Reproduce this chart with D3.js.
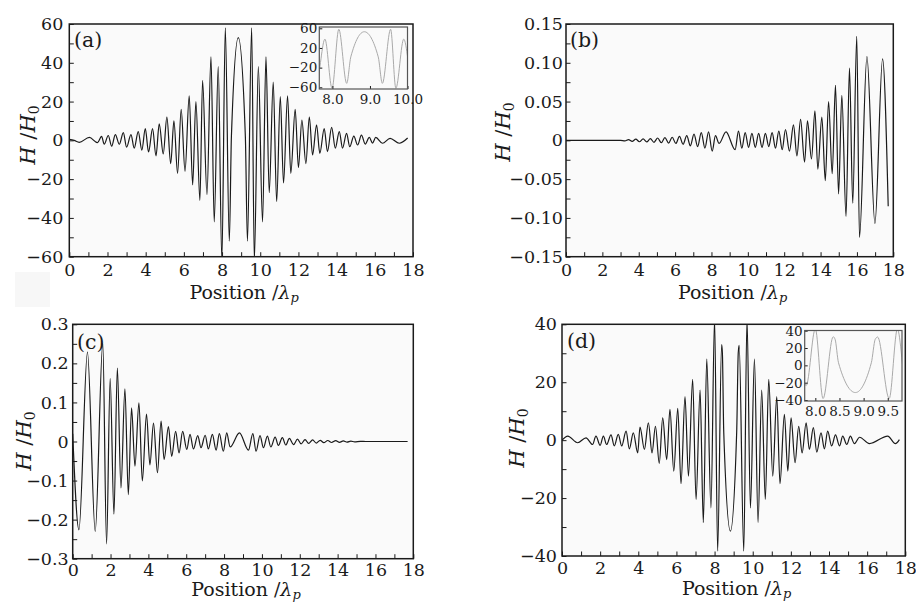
<!DOCTYPE html>
<html>
<head>
<meta charset="utf-8">
<script src="https://cdn.jsdelivr.net/npm/d3@7"></script>
<style>
body { margin: 0; background: #fff; }
svg { display: block; font-family: "DejaVu Serif", "Liberation Serif", serif; }
</style>
</head>
<body>
<svg id="chart" width="916" height="602"></svg>
<script>
// field H/H0 along the position, extrema
var aPos = [0, 0.25, 0.52, 1.05, 1.48, 1.69, 1.83, 2.04, 2.22, 2.41,
            2.62, 2.83, 3.0, 3.23, 3.40, 3.61, 3.80, 3.98, 4.15, 4.36,
            4.54, 4.71, 4.92, 5.11, 5.31, 5.48, 5.67, 5.86, 6.06, 6.28,
            6.46, 6.63, 6.84, 6.98, 7.21, 7.42, 7.59, 7.80, 7.99, 8.17,
            8.38, 8.49, 8.85, 9.22, 9.33, 9.55, 9.69, 9.90, 10.12, 10.30,
            10.47, 10.68, 10.86, 11.05, 11.22, 11.43, 11.60, 11.83, 12.00, 12.18,
            12.39, 12.57, 12.74, 12.95, 13.12, 13.35, 13.52, 13.74, 13.93, 14.14,
            14.31, 14.52, 14.69, 14.90, 15.10, 15.30, 15.50, 15.71, 15.88, 16.05,
            16.40, 16.80, 17.28, 17.72];
var aVal = [0.5, 0, -1, 1.5, -1.2, 2, -2, 2.5, -3, 3,
            -2, 4, -3.5, 3, -4, 4.5, -5, 6, -6, 6,
            -8, 8.5, -7, 12, -12, 10, -17, 16, -16, 23,
            -23, 20, -31, 31, -28, 43, -42, 38, -62, 58,
            -52, 2, 53, 2, -52, 58, -62, 38, -42, 43,
            -27, 30, -31.6, 22.5, -22, 23, -17, 16, -14, 10.5,
            -12, 12, -7.5, 8, -6.7, 6, -5.8, 6.7, -4, 4.5,
            -4, 3.6, -3.3, 2.2, -2.4, 2.7, -1.9, 1.5, -1.4, 1.5,
            -1.5, 1, -1.5, 1.2];

var bPos = [0, 3.0, 3.24, 3.44, 3.64, 3.84, 4.04, 4.24, 4.44, 4.64,
            4.84, 5.04, 5.24, 5.44, 5.64, 5.84, 6.04, 6.24, 6.44, 6.64,
            6.84, 7.04, 7.24, 7.44, 7.64, 7.84, 8.04, 8.22, 8.42, 8.8,
            9.3, 9.485, 9.67, 9.855, 10.04, 10.225, 10.41, 10.595, 10.78, 10.965,
            11.15, 11.335, 11.52, 11.705, 11.89, 12.07, 12.29, 12.51, 12.7, 12.9,
            13.12, 13.28, 13.5, 13.69, 13.85, 14.07, 14.26, 14.44, 14.64, 14.82,
            14.99, 15.17, 15.4, 15.59, 15.77, 15.99, 16.14, 16.55, 16.99, 17.41,
            17.72];
var bVal = [0, 0, -0.0008, 0.001, -0.0012, 0.0015, -0.0018, 0.002, -0.002, 0.0022,
            -0.0025, 0.003, -0.003, 0.0035, -0.0035, 0.004, -0.004, 0.005, -0.005, 0.006,
            -0.007, 0.008, -0.008, 0.010, -0.010, 0.011, -0.014, 0.006, -0.004, 0.011,
            -0.012, 0.012, -0.010, 0.010, -0.009, 0.009, -0.009, 0.009, -0.009, 0.009,
            -0.008, 0.010, -0.010, 0.012, -0.012, 0.014, -0.014, 0.020, -0.020, 0.027,
            -0.028, 0.025, -0.024, 0.038, -0.037, 0.030, -0.052, 0.050, -0.043, 0.071,
            -0.069, 0.058, -0.098, 0.093, -0.081, 0.134, -0.125, 0.108, -0.107, 0.105,
            -0.085];

var cPos = [0, 0.33, 0.78, 1.19, 1.59, 1.79, 1.98, 2.18, 2.36, 2.55,
            2.76, 2.94, 3.11, 3.29, 3.50, 3.68, 3.90, 4.08, 4.27, 4.48,
            4.67, 4.83, 5.06, 5.23, 5.44, 5.62, 5.81, 6.03, 6.20, 6.38,
            6.61, 6.78, 7.00, 7.17, 7.38, 7.58, 7.75, 7.96, 8.14, 8.32,
            8.81, 9.29, 9.52, 9.69, 9.90, 10.08, 10.29, 10.47, 10.70, 10.87,
            11.08, 11.26, 11.45, 11.67, 11.88, 12.07, 12.28, 12.47, 12.68, 12.87,
            13.08, 13.27, 13.48, 13.68, 13.90, 14.10, 14.30, 14.50, 14.70, 14.90,
            15.20, 15.50, 17.70];
var cVal = [0.02, -0.226, 0.229, -0.23, 0.251, -0.262, 0.161, -0.186, 0.188, -0.119,
            0.135, -0.136, 0.086, -0.063, 0.099, -0.101, 0.070, -0.060, 0.047, -0.080,
            0.052, -0.046, 0.038, -0.038, 0.026, -0.029, 0.026, -0.020, 0.018, -0.019,
            0.015, -0.016, 0.016, -0.019, 0.018, -0.022, 0.020, -0.025, 0.022, -0.014,
            0.022, -0.022, 0.020, -0.025, 0.015, -0.016, 0.014, -0.014, 0.011, -0.010,
            0.010, -0.009, 0.008, -0.008, 0.006, -0.006, 0.005, -0.005, 0.004, -0.004,
            0.003, -0.003, 0.0025, -0.0025, 0.002, -0.002, 0.0015, -0.0015, 0.001, -0.001,
            0.0005, 0, 0];

var dPos = [0, 0.3, 0.82, 1.26, 1.6, 1.78, 2.0, 2.17, 2.34, 2.57,
            2.74, 2.95, 3.13, 3.36, 3.53, 3.74, 3.97, 4.09, 4.32, 4.53,
            4.72, 4.9, 5.1, 5.28, 5.49, 5.66, 5.86, 6.07, 6.24, 6.45,
            6.63, 6.85, 7.03, 7.24, 7.41, 7.59, 7.81, 8.0, 8.16, 8.37,
            8.41, 8.48, 8.83, 9.16, 9.24, 9.29, 9.53, 9.70, 9.88, 10.09,
            10.28, 10.47, 10.66, 10.84, 11.05, 11.26, 11.43, 11.66, 11.84, 12.01,
            12.22, 12.41, 12.59, 12.8, 12.97, 13.18, 13.36, 13.58, 13.76, 13.93,
            14.14, 14.34, 14.55, 14.72, 14.93, 15.12, 15.33, 15.6, 16.12, 17.08,
            17.48, 17.69];
var dVal = [0, 1.4, -0.9, 0.8, -1.5, 1.4, -1.8, 1.4, -1.5, 1.8,
            -2, 2, -2, 3.1, -3, 2.5, -4.4, 4.5, -3.2, 6,
            -4.4, 4.8, -8, 7.7, -6.7, 10.6, -10.7, 11, -15, 15,
            -12.4, 21, -20.5, 17.3, -28.5, 28, -23.4, 42, -38.3, 33,
            30, 3, -31.4, 3, 30, 32.7, -38.3, 42, -23.4, 28,
            -28.5, 17.3, -20.5, 21, -12.4, 15, -15, 8.9, -10.7, 7.7,
            -7.8, 4.8, -4.4, 6, -3.2, 4.3, -4.1, 2.5, -3, 3.1,
            -2, 1.8, -2, 1.4, -1.5, 1.4, -1.2, 1, -1.2, 1.4,
            -1.2, 0.2];

// tick labels
var xTickLabels = [0, 2, 4, 6, 8, 10, 12, 14, 16, 18];
var aYTicks = [-60, -40, -20, 0, 20, 40, 60];
var bYTicks = [-0.15, -0.10, -0.05, 0, 0.05, 0.10, 0.15];
var cYTicks = [-0.3, -0.2, -0.1, 0, 0.1, 0.2, 0.3];
var dYTicks = [-40, -20, 0, 20, 40];
var insetAXTicks = [8, 9, 10];
var insetAYTicks = [-60, -20, 20, 60];
var insetDXTicks = [8, 8.5, 9, 9.5];
var insetDYTicks = [-40, -20, 0, 20, 40];

var svg = d3.select("#chart");
var defs = svg.append("defs");
var ink = "#1a1a1a";

// faint scan patch at lower left of panel (a)
svg.append("rect").attr("x", 15).attr("y", 272).attr("width", 35).attr("height", 35)
  .attr("fill", "#f7f7f7");

function fmt(dec) {
  return function(d) {
    if (Math.abs(d) < 1e-9) return "0";
    return d3.format("." + dec + "f")(d);
  };
}

function styleAxis(sel, size) {
  sel.select(".domain").remove();
  sel.attr("font-size", size).attr("font-family", null);
  sel.selectAll(".tick line").attr("stroke", ink).attr("stroke-width", 1);
  sel.selectAll(".tick text").attr("fill", ink);
}

function drawPanel(p) {
  var x = d3.scaleLinear().domain([0, 18]).range([p.left, p.right]);
  var y = d3.scaleLinear()
    .domain([p.yTicks[0], p.yTicks[p.yTicks.length - 1]])
    .range([p.bottom, p.top]);
  var g = svg.append("g");

  g.append("rect").attr("x", p.left).attr("y", p.top)
    .attr("width", p.right - p.left).attr("height", p.bottom - p.top)
    .attr("fill", "#fafafa");

  defs.append("clipPath").attr("id", "clip-" + p.id).append("rect")
    .attr("x", p.left).attr("y", p.top)
    .attr("width", p.right - p.left).attr("height", p.bottom - p.top);

  var line = d3.line()
    .x(function(d) { return x(d[0]); })
    .y(function(d) { return y(d[1]); })
    .curve(d3.curveMonotoneX);

  g.append("path").datum(d3.zip(p.pos, p.val))
    .attr("d", line)
    .attr("fill", "none")
    .attr("stroke", ink)
    .attr("stroke-width", 1.2)
    .attr("clip-path", "url(#clip-" + p.id + ")");

  // x axis, minor ticks at odd positions
  g.append("g").attr("transform", "translate(0," + p.bottom + ")")
    .call(d3.axisBottom(x).tickValues(d3.range(0, 19, 1))
      .tickSize(-4.5).tickPadding(p.xPad)
      .tickFormat(function(d) { return xTickLabels.indexOf(d) >= 0 ? d : ""; }))
    .call(styleAxis, 17.5);

  // y axis, minor tick half-way between labels
  var step = p.yTicks[1] - p.yTicks[0];
  var yMinor = d3.range(0, p.yTicks.length * 2 - 1).map(function(i) {
    return p.yTicks[0] + i * step / 2;
  });
  g.append("g").attr("transform", "translate(" + p.left + ",0)")
    .call(d3.axisLeft(y).tickValues(yMinor)
      .tickSize(-4.5).tickPadding(p.yPad)
      .tickFormat(function(d, i) { return i % 2 === 0 ? p.yFmt(d) : ""; }))
    .call(styleAxis, 17.5);

  g.append("rect").attr("x", p.left).attr("y", p.top)
    .attr("width", p.right - p.left).attr("height", p.bottom - p.top)
    .attr("fill", "none").attr("stroke", ink).attr("stroke-width", 1.5);

  // panel tag
  g.append("text").attr("x", p.tagX).attr("y", p.tagY)
    .attr("font-size", 20.5).attr("fill", ink).text(p.tag);

  // y title  H /H0
  var yt = g.append("text")
    .attr("transform", "translate(" + p.yTitleX + "," + p.yTitleY + ") rotate(-90)")
    .attr("text-anchor", "middle").attr("font-size", 21).attr("fill", ink);
  yt.append("tspan").attr("font-style", "italic").text("H");
  yt.append("tspan").text(" /");
  yt.append("tspan").attr("font-style", "italic").text("H");
  yt.append("tspan").attr("font-size", 14).attr("dy", 4).text("0");

  // x title  Position /λp
  var xt = g.append("text")
    .attr("x", (p.left + p.right) / 2 + 3).attr("y", p.xTitleY)
    .attr("text-anchor", "middle").attr("font-size", 19).attr("fill", ink);
  xt.append("tspan").text("Position /");
  xt.append("tspan").attr("font-style", "italic").text("λ");
  xt.append("tspan").attr("font-style", "italic").attr("font-size", 13).attr("dy", 3).text("p");
}

function drawInset(q) {
  var x = d3.scaleLinear().domain(q.xDomain).range([q.left, q.right]);
  var y = d3.scaleLinear().domain(q.yDomain).range(q.yRange);
  var g = svg.append("g");

  g.append("rect").attr("x", q.left).attr("y", q.top)
    .attr("width", q.right - q.left).attr("height", q.bottom - q.top)
    .attr("fill", "#fafafa");

  defs.append("clipPath").attr("id", "clip-" + q.id).append("rect")
    .attr("x", q.left).attr("y", q.top)
    .attr("width", q.right - q.left).attr("height", q.bottom - q.top);

  var line = d3.line()
    .x(function(d) { return x(d[0]); })
    .y(function(d) { return y(d[1]); })
    .curve(d3.curveMonotoneX);

  g.append("path").datum(d3.zip(q.pos, q.val))
    .attr("d", line)
    .attr("fill", "none")
    .attr("stroke", "#a9a9a9")
    .attr("stroke-width", 1)
    .attr("clip-path", "url(#clip-" + q.id + ")");

  g.append("g").attr("transform", "translate(0," + q.bottom + ")")
    .call(d3.axisBottom(x).tickValues(q.xTicks).tickSize(-3).tickPadding(5)
      .tickFormat(d3.format(".1f")))
    .call(styleAxis, 13.5);

  g.append("g").attr("transform", "translate(" + q.left + ",0)")
    .call(d3.axisLeft(y).tickValues(q.yTicks).tickSize(-3).tickPadding(2)
      .tickFormat(d3.format("d")))
    .call(styleAxis, 13.5);

  g.append("rect").attr("x", q.left).attr("y", q.top)
    .attr("width", q.right - q.left).attr("height", q.bottom - q.top)
    .attr("fill", "none").attr("stroke", "#555").attr("stroke-width", 1.2);
}

drawPanel({id: "a", pos: aPos, val: aVal, yTicks: aYTicks, yFmt: fmt(0), yPad: 6, xPad: 7,
  left: 69.3, right: 413, top: 24, bottom: 256.7,
  tag: "(a)", tagX: 74, tagY: 47, yTitleX: 35, yTitleY: 135, xTitleY: 299});
drawPanel({id: "b", pos: bPos, val: bVal, yTicks: bYTicks, yFmt: fmt(2), yPad: 3, xPad: 7,
  left: 566, right: 893.3, top: 24, bottom: 256.7,
  tag: "(b)", tagX: 570, tagY: 47, yTitleX: 510, yTitleY: 132, xTitleY: 299});
drawPanel({id: "c", pos: cPos, val: cVal, yTicks: cYTicks, yFmt: fmt(1), yPad: 4, xPad: 5,
  left: 72.7, right: 413.3, top: 324.3, bottom: 558.7,
  tag: "(c)", tagX: 77, tagY: 349, yTitleX: 31, yTitleY: 441, xTitleY: 596});
drawPanel({id: "d", pos: dPos, val: dVal, yTicks: dYTicks, yFmt: fmt(0), yPad: 5, xPad: 6,
  left: 562, right: 905.3, top: 324.3, bottom: 556,
  tag: "(d)", tagX: 567, tagY: 348, yTitleX: 524, yTitleY: 438, xTitleY: 595});

drawInset({id: "ia", pos: aPos, val: aVal, xDomain: [7.65, 10.0], yDomain: [-60, 60],
  xTicks: insetAXTicks, yTicks: insetAYTicks,
  left: 319.3, right: 407.5, top: 27, bottom: 89, yRange: [87.3, 28.3]});
drawInset({id: "id", pos: dPos, val: dVal, xDomain: [7.78, 9.795], yDomain: [-40, 40],
  xTicks: insetDXTicks, yTicks: insetDYTicks,
  left: 804.7, right: 902, top: 330.5, bottom: 401, yRange: [400, 330.7]});
</script>
</body>
</html>
